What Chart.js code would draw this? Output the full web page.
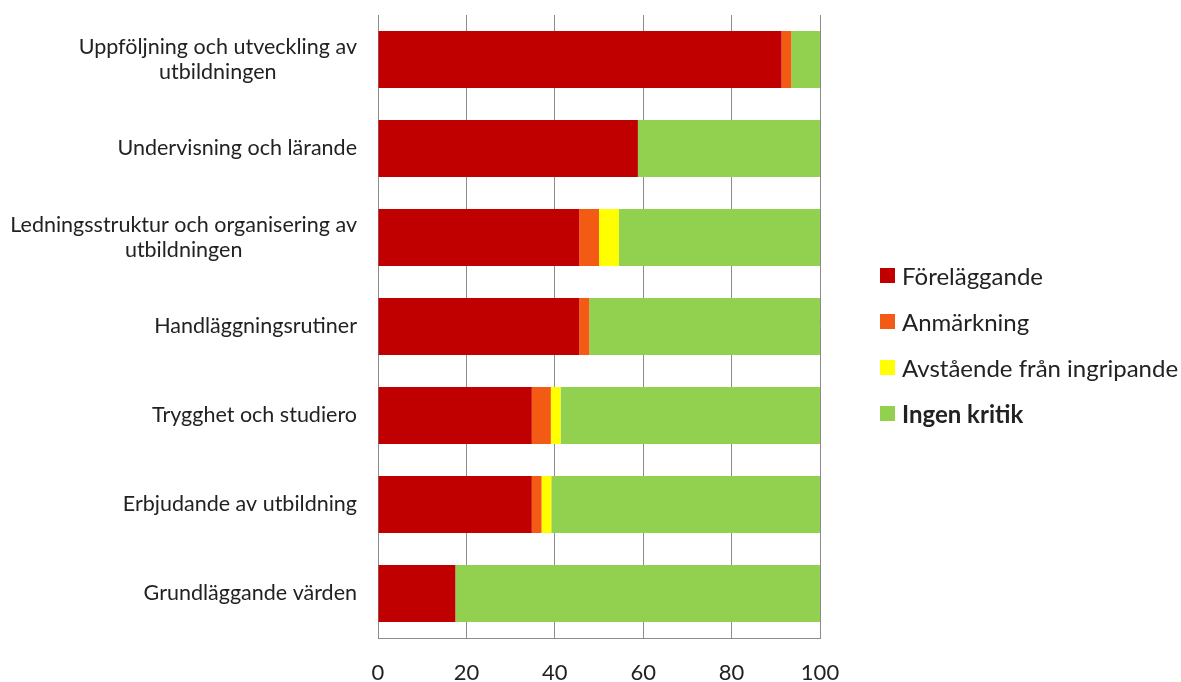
<!DOCTYPE html>
<html>
<head>
<meta charset="utf-8">
<script src="https://cdn.jsdelivr.net/npm/chart.js@4"></script>
<style>
  html, body { margin: 0; padding: 0; background: #fff; }
  #wrap { position: relative; width: 1181px; height: 682px; }
  #legend { position: absolute; left: 880px; top: 252px; font-family: Lato, "Open Sans", sans-serif; font-size: 24px; color: #222; }
  #legend .item { display: flex; align-items: center; height: 46px; white-space: nowrap; }
  #legend .box { width: 15px; height: 15px; margin-right: 7px; flex: none; }
</style>
</head>
<body>
<div id="wrap">
  <canvas id="c" width="1181" height="682"></canvas>
  <div id="legend"></div>
</div>
<script>
const categories = [
  ["Uppföljning och utveckling av", "utbildningen"],
  ["Undervisning och lärande"],
  ["Ledningsstruktur och organisering av", "utbildningen"],
  ["Handläggningsrutiner"],
  ["Trygghet och studiero"],
  ["Erbjudande av utbildning"],
  ["Grundläggande värden"]
];
const forelaggande = [91.3, 58.8, 45.5, 45.5, 34.8, 34.8, 17.5];
const anmarkning   = [2.2, 0, 4.5, 2.3, 4.3, 2.2, 0];
const avstaende    = [0, 0, 4.5, 0, 2.2, 2.2, 0];
const ingenKritik  = [6.5, 41.2, 45.5, 52.2, 58.7, 60.8, 82.5];
const seriesNames  = ["Föreläggande", "Anmärkning", "Avstående från ingripande", "Ingen kritik"];
const xTicks       = [0, 20, 40, 60, 80, 100];

const colors = ["#C00000", "#F35A14", "#FFFF00", "#92D050"];
const FONT = 'Lato, "Open Sans", sans-serif';

const labelPlugin = {
  id: 'centeredYLabels',
  afterDraw(chart) {
    const y = chart.scales.y;
    const ctx = chart.ctx;
    ctx.save();
    ctx.font = '21.5px ' + FONT;
    ctx.fillStyle = '#222';
    ctx.textAlign = 'center';
    ctx.textBaseline = 'middle';
    const right = chart.chartArea.left - 21;
    const lh = 25;
    categories.forEach((lines, i) => {
      const py = y.getPixelForValue(i);
      const maxW = Math.max(...lines.map(l => ctx.measureText(l).width));
      const cx = right - maxW / 2;
      lines.forEach((l, j) => {
        ctx.fillText(l, cx, py + (j - (lines.length - 1) / 2) * lh);
      });
    });
    ctx.restore();
  }
};

const data = [forelaggande, anmarkning, avstaende, ingenKritik];
new Chart(document.getElementById('c'), {
  type: 'bar',
  data: {
    labels: categories,
    datasets: data.map((d, i) => ({
      label: seriesNames[i],
      data: d,
      backgroundColor: colors[i],
      borderWidth: 0,
      barPercentage: 0.64,
      categoryPercentage: 1.0
    }))
  },
  options: {
    indexAxis: 'y',
    responsive: false,
    animation: false,
    layout: { padding: { left: 10, right: 361, top: 15, bottom: 0 } },
    plugins: { legend: { display: false }, tooltip: { enabled: false } },
    scales: {
      x: {
        stacked: true,
        min: 0, max: 100,
        afterBuildTicks(scale) { scale.ticks = xTicks.map(v => ({ value: v })); },
        grid: { color: '#8C8C8C', lineWidth: 1, drawTicks: false },
        border: { color: '#8C8C8C' },
        ticks: { font: { family: FONT, size: 22 }, color: '#222', padding: 22 },
        afterFit(scale) { scale.height = 44; }
      },
      y: {
        stacked: true,
        grid: { display: false, drawTicks: false },
        border: { display: true, color: '#8C8C8C' },
        ticks: { display: false },
        afterFit(scale) { scale.width = 368; }
      }
    }
  },
  plugins: [labelPlugin]
});

const legend = document.getElementById('legend');
seriesNames.forEach((n, i) => {
  const it = document.createElement('div');
  it.className = 'item';
  const b = document.createElement('span');
  b.className = 'box';
  b.style.background = colors[i];
  const t = document.createElement('span');
  t.textContent = n;
  if (i === 3) t.style.fontWeight = 'bold';
  it.appendChild(b); it.appendChild(t);
  legend.appendChild(it);
});
</script>
</body>
</html>
